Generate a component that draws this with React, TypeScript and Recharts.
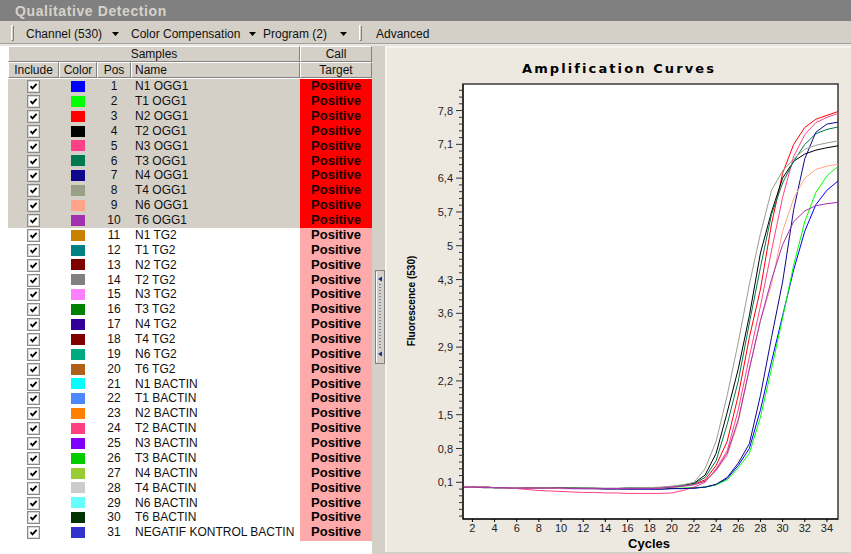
import React from 'react';
import { LineChart, Line, XAxis, YAxis, ReferenceArea } from 'recharts';

// cycles 1..35
const cycles = [1, 2, 3, 4, 5, 6, 7, 8, 9, 10, 11, 12, 13, 14, 15, 16, 17, 18, 19, 20, 21, 22, 23, 24, 25, 26, 27, 28, 29, 30, 31, 32, 33, 34, 35];

// fluorescence (530) per cycle
const n1Ogg1 = [0.01, 0.0, 0.0, -0.01, -0.01, -0.02, -0.02, -0.02, -0.02, -0.02, -0.03, -0.03, -0.03, -0.03, -0.03, -0.04, -0.04, -0.04, -0.04, -0.03, -0.03, -0.02, 0.0, 0.05, 0.18, 0.45, 0.8, 1.6, 2.6, 3.55, 4.5, 5.3, 5.85, 6.15, 6.34];
const t1Ogg1 = [0.0, 0.0, -0.01, -0.01, -0.01, -0.02, -0.02, -0.02, -0.02, -0.02, -0.02, -0.03, -0.03, -0.03, -0.03, -0.03, -0.03, -0.03, -0.03, -0.02, -0.02, -0.01, 0.0, 0.05, 0.15, 0.4, 0.7, 1.45, 2.45, 3.5, 4.6, 5.5, 6.1, 6.45, 6.64];
const n2Ogg1 = [0.01, 0.0, 0.0, -0.01, -0.01, -0.01, -0.02, -0.02, -0.02, -0.02, -0.02, -0.03, -0.03, -0.03, -0.03, -0.03, -0.03, -0.02, -0.02, 0.0, 0.02, 0.06, 0.15, 0.45, 0.95, 1.9, 3.1, 4.1, 5.45, 6.5, 7.1, 7.45, 7.62, 7.7, 7.78];
const t2Ogg1 = [0.01, 0.0, 0.0, -0.01, -0.01, -0.01, -0.02, -0.02, -0.02, -0.02, -0.02, -0.02, -0.02, -0.03, -0.03, -0.02, -0.02, -0.02, -0.01, 0.01, 0.04, 0.08, 0.25, 0.7, 1.55, 2.45, 3.55, 4.85, 5.7, 6.4, 6.75, 6.9, 6.98, 7.03, 7.07];
const n3Ogg1 = [0.02, 0.01, 0.0, -0.01, -0.02, -0.03, -0.05, -0.07, -0.08, -0.09, -0.1, -0.11, -0.11, -0.12, -0.12, -0.13, -0.13, -0.13, -0.13, -0.12, -0.07, 0.0, 0.1, 0.38, 0.75, 1.6, 2.7, 3.75, 4.9, 6.0, 6.85, 7.3, 7.55, 7.66, 7.74];
const t3Ogg1 = [0.01, 0.0, 0.0, -0.01, -0.01, -0.01, -0.02, -0.02, -0.02, -0.02, -0.02, -0.02, -0.03, -0.03, -0.03, -0.02, -0.02, -0.02, -0.01, 0.01, 0.03, 0.07, 0.2, 0.55, 1.3, 2.2, 3.4, 4.55, 5.65, 6.3, 6.75, 7.1, 7.32, 7.41, 7.46];
const n4Ogg1 = [0.0, 0.0, -0.01, -0.01, -0.01, -0.02, -0.02, -0.02, -0.02, -0.03, -0.03, -0.03, -0.03, -0.04, -0.04, -0.04, -0.04, -0.04, -0.04, -0.03, -0.03, -0.02, 0.0, 0.06, 0.2, 0.5, 0.9, 1.9, 3.1, 4.25, 5.75, 6.8, 7.35, 7.52, 7.56];
const t4Ogg1 = [0.01, 0.0, 0.0, -0.01, -0.01, -0.01, -0.02, -0.02, -0.02, -0.02, -0.02, -0.02, -0.02, -0.02, -0.02, -0.02, -0.01, -0.01, 0.0, 0.02, 0.05, 0.1, 0.38, 0.95, 1.9, 3.0, 4.2, 5.25, 6.15, 6.55, 6.8, 7.0, 7.08, 7.13, 7.17];
const n6Ogg1 = [0.01, 0.0, 0.0, -0.01, -0.01, -0.02, -0.02, -0.02, -0.02, -0.03, -0.03, -0.03, -0.03, -0.03, -0.03, -0.03, -0.03, -0.03, -0.02, 0.0, 0.02, 0.05, 0.12, 0.35, 0.65, 1.35, 2.45, 3.45, 4.2, 5.3, 5.98, 6.4, 6.58, 6.65, 6.69];
const t6Ogg1 = [0.0, 0.0, -0.01, -0.01, -0.01, -0.02, -0.02, -0.02, -0.02, -0.02, -0.03, -0.03, -0.03, -0.03, -0.03, -0.03, -0.03, -0.03, -0.02, 0.0, 0.02, 0.05, 0.12, 0.35, 0.7, 1.4, 2.45, 3.45, 4.3, 5.02, 5.5, 5.72, 5.83, 5.87, 5.9];

const sampleNames = [
  'N1 OGG1', 'T1 OGG1', 'N2 OGG1', 'T2 OGG1', 'N3 OGG1', 'T3 OGG1', 'N4 OGG1', 'T4 OGG1', 'N6 OGG1', 'T6 OGG1',
  'N1 TG2', 'T1 TG2', 'N2 TG2', 'T2 TG2', 'N3 TG2', 'T3 TG2', 'N4 TG2', 'T4 TG2', 'N6 TG2', 'T6 TG2',
  'N1 BACTIN', 'T1 BACTIN', 'N2 BACTIN', 'T2 BACTIN', 'N3 BACTIN', 'T3 BACTIN', 'N4 BACTIN', 'T4 BACTIN', 'N6 BACTIN', 'T6 BACTIN',
  'NEGATIF KONTROL BACTIN',
];
const sampleColors = [
  '#0000ff', '#00ff00', '#ff0000', '#000000', '#ff4088', '#007850', '#10088c', '#98a088', '#ffa488', '#a030b0',
  '#c88000', '#008080', '#800000', '#808080', '#ff80ff', '#008000', '#300098', '#800000', '#00aa80', '#b06018',
  '#00ffff', '#4c88ff', '#ff8000', '#ff4080', '#8000ff', '#00cc00', '#99cc33', '#cccccc', '#66ffff', '#003300',
  '#3333cc',
];
const callText = 'Positive';
const shownSeries = [n1Ogg1, t1Ogg1, n2Ogg1, t2Ogg1, n3Ogg1, t3Ogg1, n4Ogg1, t4Ogg1, n6Ogg1, t6Ogg1];

const xTicks = [2, 4, 6, 8, 10, 12, 14, 16, 18, 20, 22, 24, 26, 28, 30, 32, 34];
const yTicks = [0.1, 0.8, 1.5, 2.2, 2.9, 3.6, 4.3, 5, 5.7, 6.4, 7.1, 7.8];
const X_DOMAIN: [number, number] = [1.15, 35];
const Y_DOMAIN: [number, number] = [-0.66, 8.35];

// small ticks between the labelled ones
const yMinor: number[] = [];
for (let k = 5; k >= 1; k--) yMinor.push(+(yTicks[0] - k * 0.14).toFixed(2));
yTicks.forEach((t, i) => {
  const n = i === yTicks.length - 1 ? 3 : 4;
  for (let k = 1; k <= n; k++) yMinor.push(+(t + k * 0.14).toFixed(2));
});
const yAllTicks = [...yTicks, ...yMinor].sort((a, b) => a - b);

const chartData = cycles.map((c, i) => {
  const row: any = { cycle: c };
  shownSeries.forEach((s, j) => { row[`s${j}`] = s[i]; });
  return row;
});

const ROW_TOP = 79.2;
const ROW_H = 14.87;
const FONT = '"Liberation Sans", Arial, sans-serif';

const YTick = (props: any) => {
  const { x, y, payload } = props;
  const major = yTicks.some((t) => Math.abs(t - payload.value) < 1e-6);
  return (
    <g>
      <line x1={x + (major ? 3 : 6)} x2={x + 10} y1={y} y2={y} stroke="#333" strokeWidth={1} />
      {major && (
        <text x={x} y={y} dy={4} textAnchor="end" fontSize={11} fill="#222" fontFamily={FONT}>
          {String(payload.value).replace('.', ',')}
        </text>
      )}
    </g>
  );
};

const hdr: React.CSSProperties = {
  position: 'absolute', background: '#d4d0c8', boxSizing: 'border-box',
  borderTop: '1px solid #fff', borderLeft: '1px solid #fff',
  borderRight: '1px solid #808080', borderBottom: '1px solid #808080',
  fontSize: 12, color: '#111', textAlign: 'center', lineHeight: '14px',
};

const Arrow = ({ left }: { left: number }) => (
  <svg style={{ position: 'absolute', left, top: 32 }} width={7} height={4}>
    <polygon points="0,0 7,0 3.5,4" fill="#000" />
  </svg>
);

const Grip = ({ left }: { left: number }) => (
  <div style={{ position: 'absolute', left, top: 25, width: 3, height: 16, boxSizing: 'border-box', borderLeft: '1px solid #fff', borderTop: '1px solid #fff', borderRight: '1px solid #808080', borderBottom: '1px solid #808080' }} />
);

const CheckBox = () => (
  <svg width={13} height={13} style={{ position: 'absolute', left: 19, top: 1 }}>
    <rect x={0.5} y={0.5} width={12} height={12} fill="#fff" stroke="#8a8a8a" />
    <rect x={1.5} y={1.5} width={10} height={10} fill="none" stroke="#d8d8d8" />
    <path d="M3.5 6.2 L5.5 8.4 L9.6 3.8" fill="none" stroke="#000" strokeWidth={1.8} />
  </svg>
);

export default function App() {
  return (
    <div style={{ position: 'absolute', left: 0, top: 0, width: 851, height: 554, overflow: 'hidden', background: '#fff', fontFamily: FONT }}>
      {/* title bar */}
      <div style={{ position: 'absolute', left: 0, top: 0, width: 851, height: 21, background: '#808080' }}>
        <div style={{ position: 'absolute', left: 15, top: 3, fontSize: 14, fontWeight: 'bold', color: '#d6d2ca', letterSpacing: 0.6 }}>Qualitative Detection</div>
      </div>

      {/* toolbar */}
      <div style={{ position: 'absolute', left: 0, top: 21, width: 851, height: 22, background: '#d4d0c8' }} />
      <div style={{ position: 'absolute', left: 0, top: 43, width: 851, height: 1, background: '#a0a0a0' }} />
      <div style={{ position: 'absolute', left: 0, top: 44, width: 851, height: 2, background: '#e8e5de' }} />
      <Grip left={11} />
      <div style={{ position: 'absolute', left: 26, top: 27, fontSize: 12, color: '#111' }}>Channel (530)</div>
      <Arrow left={112} />
      <div style={{ position: 'absolute', left: 131, top: 27, fontSize: 12, color: '#111' }}>Color Compensation</div>
      <Arrow left={249} />
      <div style={{ position: 'absolute', left: 263, top: 27, fontSize: 12, color: '#111' }}>Program (2)</div>
      <Arrow left={340} />
      <Grip left={359} />
      <div style={{ position: 'absolute', left: 376, top: 27, fontSize: 12, color: '#111' }}>Advanced</div>

      {/* sample table */}
      <div style={{ ...hdr, left: 8, top: 46, width: 292, height: 16 }}>Samples</div>
      <div style={{ ...hdr, left: 300, top: 46, width: 72, height: 16 }}>Call</div>
      <div style={{ ...hdr, left: 8, top: 62, width: 51, height: 16 }}>Include</div>
      <div style={{ ...hdr, left: 59, top: 62, width: 38, height: 16 }}>Color</div>
      <div style={{ ...hdr, left: 97, top: 62, width: 34, height: 16 }}>Pos</div>
      <div style={{ ...hdr, left: 131, top: 62, width: 169, height: 16, textAlign: 'left', paddingLeft: 3 }}>Name</div>
      <div style={{ ...hdr, left: 300, top: 62, width: 72, height: 16 }}>Target</div>
      {sampleNames.map((name, i) => {
        const sel = i < 10;
        return (
          <div key={name} style={{ position: 'absolute', left: 8, top: ROW_TOP + i * ROW_H, width: 364, height: ROW_H, background: sel ? '#d4d0c8' : '#fff' }}>
            <CheckBox />
            <div style={{ position: 'absolute', left: 63, top: 1.8, width: 14, height: 11, background: sampleColors[i] }} />
            <div style={{ position: 'absolute', left: 89, width: 34, top: 0, fontSize: 12, lineHeight: `${ROW_H}px`, textAlign: 'center', color: '#111' }}>{i + 1}</div>
            <div style={{ position: 'absolute', left: 127, top: 0, fontSize: 12, lineHeight: `${ROW_H}px`, color: '#111', whiteSpace: 'nowrap' }}>{name}</div>
            <div style={{ position: 'absolute', left: 292, top: 0, width: 72, height: ROW_H + 0.5, background: sel ? '#ff0000' : '#ffaaaa', fontSize: 13, fontWeight: 'bold', lineHeight: `${ROW_H}px`, textAlign: 'center', color: sel ? '#200000' : '#000' }}>{callText}</div>
          </div>
        );
      })}

      {/* splitter */}
      <div style={{ position: 'absolute', left: 372, top: 46, width: 14, height: 508, background: '#d4d0c8' }} />
      <svg style={{ position: 'absolute', left: 375, top: 270 }} width={10} height={94}>
        <rect x={0.5} y={0.5} width={9} height={93} fill="#d4d0c8" stroke="#808080" />
        <line x1={1.5} y1={1.5} x2={1.5} y2={92} stroke="#fff" />
        <polygon points="3,9 7,6.5 7,11.5" fill="#1a2a9a" />
        <polygon points="3,84 7,81.5 7,86.5" fill="#1a2a9a" />
        <line x1={5} y1={14} x2={5} y2={80} stroke="#2a3aa8" strokeDasharray="1 2" />
      </svg>

      {/* chart panel */}
      <div style={{ position: 'absolute', left: 385, top: 46, width: 466, height: 506, background: '#ede9e1', boxSizing: 'border-box', borderLeft: '2px solid #f6f4ef', borderTop: '2px solid #f6f4ef' }} />
      <div style={{ position: 'absolute', left: 385, top: 552, width: 466, height: 2, background: '#d4d0c8' }} />
      <div style={{ position: 'absolute', left: 385, top: 46 }}>
        <LineChart width={455} height={508} data={chartData} margin={{ top: 38, right: 2, left: 0, bottom: 0 }}>
          <ReferenceArea x1={X_DOMAIN[0]} x2={X_DOMAIN[1]} y1={Y_DOMAIN[0]} y2={Y_DOMAIN[1]} fill="#ffffff" fillOpacity={1} stroke="none" />
          <XAxis
            dataKey="cycle" type="number" domain={X_DOMAIN} allowDataOverflow ticks={xTicks} interval={0}
            height={35} tickSize={3} tickMargin={2} stroke="#000"
            tick={{ fontSize: 11, fill: '#222', fontFamily: FONT }}
          />
          <YAxis
            type="number" domain={Y_DOMAIN} allowDataOverflow ticks={yAllTicks} interval={0}
            width={78} tickSize={8} tickMargin={2} tickLine={false} stroke="#000" tick={<YTick />}
          />
          {shownSeries.map((_, j) => (
            <Line
              key={j}
              type="linear"
              dataKey={`s${j}`}
              stroke={sampleColors[j]}
              strokeWidth={1}
              dot={false}
              activeDot={false}
              isAnimationActive={false}
            />
          ))}
          <ReferenceArea x1={X_DOMAIN[0]} x2={X_DOMAIN[1]} y1={Y_DOMAIN[0]} y2={Y_DOMAIN[1]} fill="none" fillOpacity={0} stroke="#3a3a3a" strokeWidth={1.5} ifOverflow="visible" />
        </LineChart>
      </div>
      <div style={{ position: 'absolute', left: 519, top: 61, width: 200, textAlign: 'center', fontFamily: '"DejaVu Sans", sans-serif', fontSize: 13, fontWeight: 'bold', letterSpacing: 2.1, color: '#000' }}>Amplification Curves</div>
      <div style={{ position: 'absolute', left: 411, top: 301, transform: 'translate(-50%, -50%) rotate(-90deg)', fontSize: 10, fontWeight: 'bold', color: '#000', whiteSpace: 'nowrap' }}>Fluorescence (530)</div>
      <div style={{ position: 'absolute', left: 649, top: 543, transform: 'translate(-50%, -50%)', fontSize: 13, fontWeight: 'bold', color: '#000' }}>Cycles</div>
    </div>
  );
}
